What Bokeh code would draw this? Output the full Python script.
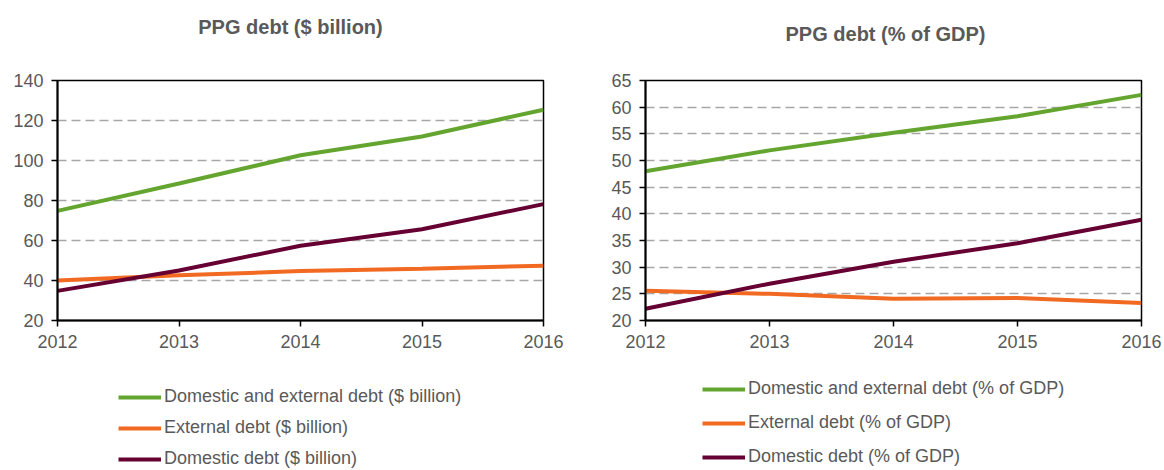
from bokeh.plotting import figure
from bokeh.layouts import row, column
from bokeh.models import Legend, LegendItem, Label, Range1d, FixedTicker
from bokeh.embed import file_html
from bokeh.resources import INLINE

# ---- data ----
years = [2012, 2013, 2014, 2015, 2016]
bn_total = [74.8, 88.5, 102.6, 112.0, 125.4]
bn_external = [40.0, 42.6, 44.7, 45.9, 47.4]
bn_domestic = [34.8, 45.0, 57.4, 65.6, 78.2]
gdp_total = [48.0, 51.9, 55.2, 58.3, 62.3]
gdp_external = [25.6, 25.0, 24.1, 24.2, 23.3]
gdp_domestic = [22.2, 26.9, 31.0, 34.5, 38.9]

left_title = "PPG debt ($ billion)"
right_title = "PPG debt (% of GDP)"
left_labels = ["Domestic and external debt ($ billion)", "External debt ($ billion)", "Domestic debt ($ billion)"]
right_labels = ["Domestic and external debt (% of GDP)", "External debt (% of GDP)", "Domestic debt (% of GDP)"]
left_yticks = [20, 40, 60, 80, 100, 120, 140]
right_yticks = [20, 25, 30, 35, 40, 45, 50, 55, 60, 65]

GREEN = "#64A530"
ORANGE = "#F26A21"
MAROON = "#660033"
COLORS = [GREEN, ORANGE, MAROON]
GRAY = "#595959"
FONT = "Liberation Sans"

TITLE_H = 50
MAIN_H = 320
LEG_H = 100


def blank(width, height):
    p = figure(width=width, height=height, output_backend="svg", toolbar_location=None,
               x_range=Range1d(0, width), y_range=Range1d(0, height),
               x_axis_type=None, y_axis_type=None,
               min_border_left=0, min_border_right=0, min_border_top=0, min_border_bottom=0)
    p.outline_line_color = None
    p.grid.grid_line_color = None
    p.background_fill_color = "white"
    p.border_fill_color = "white"
    return p


def title_fig(width, text, cx, cy):
    p = blank(width, TITLE_H)
    p.add_layout(Label(x=cx, y=TITLE_H - cy, text=text, text_align="center", text_baseline="middle",
                       text_font=FONT, text_font_style="bold", text_font_size="20px",
                       text_color=GRAY))
    return p


def main_fig(width, yr, yticks, series, borders):
    p = figure(width=width, height=MAIN_H, output_backend="svg", toolbar_location=None,
               x_range=Range1d(2012, 2016), y_range=Range1d(*yr),
               min_border_left=borders[0], min_border_right=borders[1],
               min_border_top=borders[2], min_border_bottom=borders[3])
    p.background_fill_color = "white"
    p.border_fill_color = "white"
    p.outline_line_color = "black"
    p.outline_line_width = 1.5
    p.xgrid.grid_line_color = None
    p.ygrid.grid_line_color = "#A6A6A6"
    p.ygrid.grid_line_dash = "9 5"
    p.ygrid.grid_line_width = 1.3
    p.xaxis.ticker = FixedTicker(ticks=years)
    p.yaxis.ticker = FixedTicker(ticks=yticks)
    for ax in (p.xaxis, p.yaxis):
        ax.axis_line_color = "black"
        ax.axis_line_width = 2
        ax.major_tick_line_color = "black"
        ax.major_tick_line_width = 1.5
        ax.major_tick_in = 0
        ax.major_tick_out = 6
        ax.minor_tick_line_color = None
        ax.major_label_text_font = FONT
        ax.major_label_text_font_size = "18px"
        ax.major_label_text_color = GRAY
    p.yaxis.major_label_standoff = 8
    p.xaxis.major_label_standoff = 8
    for ys, col in zip(series, COLORS):
        p.line(years, ys, line_color=col, line_width=4)
    return p


def legend_fig(width, series, labels, loc, spacing):
    p = blank(width, LEG_H)
    rs = []
    for ys, col in zip(series, COLORS):
        # drawn off-canvas: only the legend swatches are seen
        rs.append(p.line(years, ys, line_color=col, line_width=4))
    items = [LegendItem(label=lab, renderers=[r]) for lab, r in zip(labels, rs)]
    leg = Legend(items=items, location=loc, orientation="vertical",
                 glyph_width=43, glyph_height=20, label_height=20, label_standoff=3,
                 spacing=spacing, padding=0, margin=0,
                 border_line_color=None, background_fill_alpha=0,
                 label_text_font=FONT, label_text_font_size="18px", label_text_color=GRAY)
    p.add_layout(leg, "center")
    return p


left_series = [bn_total, bn_external, bn_domestic]
right_series = [gdp_total, gdp_external, gdp_domestic]

layout = column(
    row(title_fig(598, left_title, 290, 26), title_fig(566, right_title, 287, 33)),
    row(main_fig(598, (20, 140), left_yticks, left_series, (57, 55, 27, 49)),
        main_fig(566, (20, 65), right_yticks, right_series, (47, 23, 30, 50))),
    row(legend_fig(598, left_series, left_labels, (118, 1), 10),
        legend_fig(566, right_series, right_labels, (104, 3), 13)),
)
open("out.html", "w").write(file_html(layout, INLINE))
